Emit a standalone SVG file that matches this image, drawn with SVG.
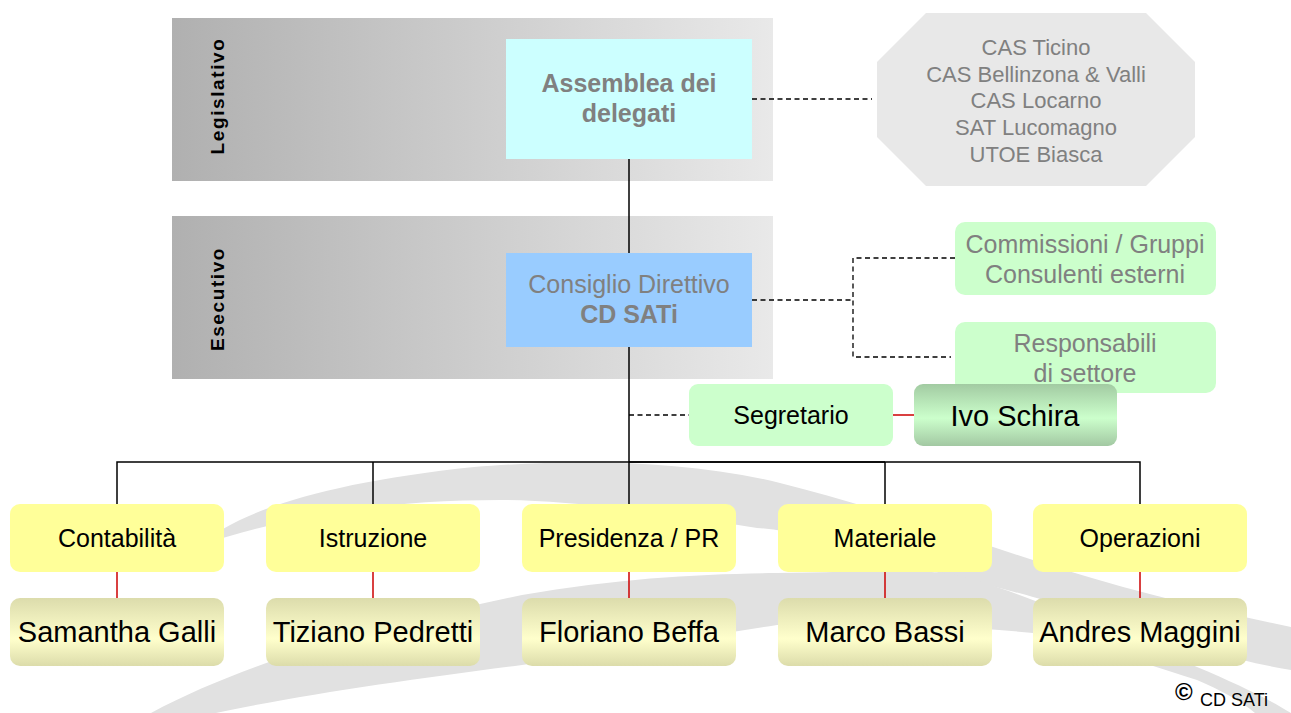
<svg xmlns="http://www.w3.org/2000/svg" width="1291" height="713" viewBox="0 0 1291 713">
<defs>
<style>
text{font-family:"Liberation Sans",Arial,sans-serif;}
.g{fill:#808080;}
.k{fill:#000;}
.b{font-weight:bold;}
.f25{font-size:25px;}
.f22{font-size:22px;}
.f29{font-size:29px;}
.mid{text-anchor:middle;}
.dash{stroke:#000;stroke-width:1.3;stroke-dasharray:5 3.5;fill:none;}
.solid{stroke:#000;stroke-width:1.5;fill:none;}
.red{stroke:#cc0000;stroke-width:1.5;fill:none;}
.yel{fill:#ffff99;}
.grn{fill:#ccffcc;}
.name{fill:url(#nameGrad);}
.swoosh{fill:#e1e1e1;}
.vlab{font-size:19px;font-weight:bold;fill:#000;text-anchor:middle;letter-spacing:1.6px;}
</style>
<linearGradient id="bandGrad" x1="0" y1="0" x2="1" y2="0">
<stop offset="0" stop-color="#b0b0b0"/>
<stop offset="1" stop-color="#e9e9e9"/>
</linearGradient>
<linearGradient id="nameGrad" x1="0" y1="0" x2="0" y2="1">
<stop offset="0" stop-color="#dcdcac"/>
<stop offset="0.6" stop-color="#ffffcc"/>
<stop offset="1" stop-color="#dcdcaa"/>
</linearGradient>
<linearGradient id="ivoGrad" x1="0" y1="0" x2="0" y2="1">
<stop offset="0" stop-color="#a2cba2"/>
<stop offset="0.55" stop-color="#ccffcc"/>
<stop offset="1" stop-color="#a2c8a2"/>
</linearGradient>
</defs>

<g id="background">
<path class="swoosh" d="M200,545 C240,510 330,482 474,467 C560,460 680,458 780,483 C860,503 940,530 1033,560 C1120,588 1200,608 1291,627 L1291,670 C1200,655 1100,615 1033,597 C980,582 900,565 860,552 C820,540 790,530 757,528 C650,510 560,500 500,500 C400,500 300,512 200,545 Z"/>
<path class="swoosh" d="M151,713 C250,660 380,625 522,595 C620,578 700,574 777,573 C860,572 920,568 957,575 C1000,585 1100,625 1197,667 C1240,685 1270,700 1291,713 L1255,713 C1240,700 1220,690 1197,680 C1120,655 1060,638 1033,633 C950,625 850,622 777,625 C680,640 580,658 522,665 C420,678 300,695 216,713 Z"/>
</g>

<g id="band-legislativo">
<rect x="172" y="18" width="601" height="163" fill="url(#bandGrad)"/>
<text class="vlab" transform="translate(224,96) rotate(-90)">Legislativo</text>
</g>
<g id="band-esecutivo">
<rect x="172" y="216" width="601" height="163" fill="url(#bandGrad)"/>
<text class="vlab" transform="translate(224,299) rotate(-90)">Esecutivo</text>
</g>

<g id="connectors">
<line class="solid" x1="629" y1="159" x2="629" y2="253"/>
<line class="solid" x1="629" y1="347" x2="629" y2="504"/>
<line class="dash" x1="752" y1="99" x2="872" y2="99"/>
<polyline class="dash" points="752,300 853,300"/>
<polyline class="dash" points="955,258 853,258 853,357 951,357"/>
<line class="dash" x1="629" y1="415" x2="689" y2="415"/>
<line class="red" x1="893" y1="415" x2="914" y2="415"/>
<polyline class="solid" points="117,504 117,462 1140,462 1140,504"/>
<line class="solid" x1="373" y1="462" x2="373" y2="504"/>
<line class="solid" x1="885" y1="462" x2="885" y2="504"/>
<line class="solid" x1="629" y1="462" x2="885" y2="462" stroke-width="2.5"/>
<line class="red" x1="117" y1="572" x2="117" y2="598"/>
<line class="red" x1="373" y1="572" x2="373" y2="598"/>
<line class="red" x1="629" y1="572" x2="629" y2="598"/>
<line class="red" x1="885" y1="572" x2="885" y2="598"/>
<line class="red" x1="1140" y1="572" x2="1140" y2="598"/>
</g>

<g id="assemblea">
<rect x="506" y="39" width="246" height="120" fill="#ccffff"/>
<text class="g b f25 mid" x="629" y="92">Assemblea dei</text>
<text class="g b f25 mid" x="629" y="122">delegati</text>
</g>

<g id="sezioni">
<polygon points="926,13 1146,13 1195,62 1195,137 1146,186 926,186 877,137 877,62" fill="#e8e8e8"/>
<text class="g f22 mid" x="1036" y="55">CAS Ticino</text>
<text class="g f22 mid" x="1036" y="82">CAS Bellinzona &amp; Valli</text>
<text class="g f22 mid" x="1036" y="108">CAS Locarno</text>
<text class="g f22 mid" x="1036" y="135">SAT Lucomagno</text>
<text class="g f22 mid" x="1036" y="162">UTOE Biasca</text>
</g>

<g id="consiglio">
<rect x="506" y="253" width="246" height="94" fill="#99ccff"/>
<text class="g f25 mid" x="629" y="293">Consiglio Direttivo</text>
<text class="g b f25 mid" x="629" y="323">CD SATi</text>
</g>

<g id="commissioni">
<rect class="grn" x="955" y="222" width="261" height="73" rx="10"/>
<text class="g f25 mid" x="1085" y="253">Commissioni / Gruppi</text>
<text class="g f25 mid" x="1085" y="283">Consulenti esterni</text>
</g>

<g id="responsabili">
<rect class="grn" x="955" y="322" width="261" height="71" rx="10"/>
<text class="g f25 mid" x="1085" y="352">Responsabili</text>
<text class="g f25 mid" x="1085" y="382">di settore</text>
</g>

<g id="segretario">
<rect class="grn" x="689" y="384" width="204" height="62" rx="9"/>
<text class="k f25 mid" x="791" y="424">Segretario</text>
</g>

<g id="ivo">
<rect x="914" y="384" width="203" height="62" rx="9" fill="url(#ivoGrad)"/>
<text class="k f29 mid" x="1015" y="426">Ivo Schira</text>
</g>

<g id="contabilita">
<rect class="yel" x="10" y="504" width="214" height="68" rx="10"/>
<text class="k f25 mid" x="117" y="547">Contabilità</text>
</g>
<g id="istruzione">
<rect class="yel" x="266" y="504" width="214" height="68" rx="10"/>
<text class="k f25 mid" x="373" y="547">Istruzione</text>
</g>
<g id="presidenza">
<rect class="yel" x="522" y="504" width="214" height="68" rx="10"/>
<text class="k f25 mid" x="629" y="547">Presidenza / PR</text>
</g>
<g id="materiale">
<rect class="yel" x="778" y="504" width="214" height="68" rx="10"/>
<text class="k f25 mid" x="885" y="547">Materiale</text>
</g>
<g id="operazioni">
<rect class="yel" x="1033" y="504" width="214" height="68" rx="10"/>
<text class="k f25 mid" x="1140" y="547">Operazioni</text>
</g>

<g id="galli">
<rect class="name" x="10" y="598" width="214" height="68" rx="10"/>
<text class="k f29 mid" x="117" y="642">Samantha Galli</text>
</g>
<g id="pedretti">
<rect class="name" x="266" y="598" width="214" height="68" rx="10"/>
<text class="k f29 mid" x="373" y="642">Tiziano Pedretti</text>
</g>
<g id="beffa">
<rect class="name" x="522" y="598" width="214" height="68" rx="10"/>
<text class="k f29 mid" x="629" y="642">Floriano Beffa</text>
</g>
<g id="bassi">
<rect class="name" x="778" y="598" width="214" height="68" rx="10"/>
<text class="k f29 mid" x="885" y="642">Marco Bassi</text>
</g>
<g id="maggini">
<rect class="name" x="1033" y="598" width="214" height="68" rx="10"/>
<text class="k f29 mid" x="1140" y="642">Andres Maggini</text>
</g>

<g id="copyright">
<text class="k b" font-size="24" x="1175" y="700">©</text>
<text class="k" font-size="18" x="1200" y="706">CD SATi</text>
</g>
</svg>
